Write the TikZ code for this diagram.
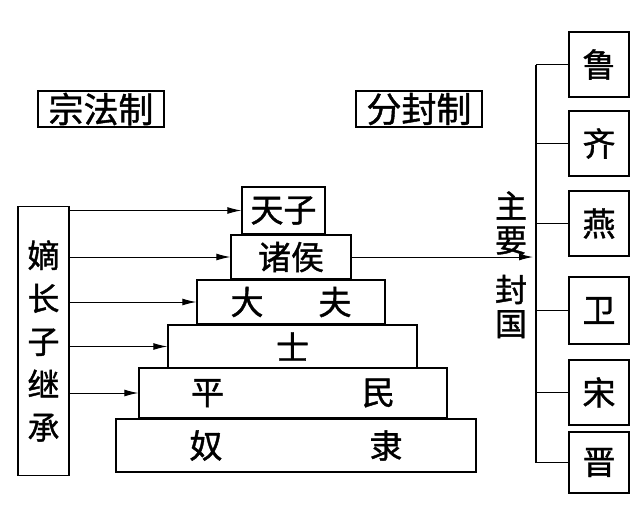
\documentclass[tikz,border=0pt]{standalone}
\usepackage{fontspec}
\setmainfont{Noto Sans CJK SC}[FakeBold=1.2]
\usetikzlibrary{arrows.meta}

\begin{document}
\begin{tikzpicture}[x=1pt,y=-1pt,
    box/.style={draw, line width=1.4pt, inner sep=0pt, align=center, font=\fontsize{33}{33}\selectfont},
    arr/.style={-{Latex[length=14pt,width=7pt]}, line width=1pt},
    link/.style={line width=1.2pt}]
    \useasboundingbox (0,0) rectangle (640,504);

    % titles
    \node[box, minimum width=126, minimum height=36, font=\fontsize{35}{35}\selectfont] (zongfa) at (101,109) {宗法制};
    \node[box, minimum width=126, minimum height=36, font=\fontsize{35}{35}\selectfont] (fenfeng) at (419,109) {分封制};

    % left column
    \node[box, minimum width=51, minimum height=269, font=\fontsize{32}{43}\selectfont] (dizhang) at (43.5,341) {嫡\\长\\子\\继\\承};

    % pyramid
    \node[box, minimum width=360, minimum height=53] (nuli) at (296,445.5) {奴\hspace{147pt}隶};
    \node[box, minimum width=308, minimum height=50] (pingmin) at (293,393) {平\hspace{138pt}民};
    \node[box, minimum width=249, minimum height=43] (shi) at (292.5,346.5) {士};
    \node[box, minimum width=188, minimum height=44] (dafu) at (291,302) {大\hspace{55pt}夫};
    \node[box, minimum width=120, minimum height=44] (zhuhou) at (291,257) {诸侯};
    \node[box, minimum width=83, minimum height=47] (tianzi) at (283.5,210.5) {天子};

    \draw[arr] (dizhang.east |- tianzi.west) -- (tianzi.west);
    \draw[arr] (dizhang.east |- zhuhou.west) -- (zhuhou.west);
    \draw[arr] (dizhang.east |- dafu.west) -- (dafu.west);
    \draw[arr] (dizhang.east |- shi.west) -- (shi.west);
    \draw[arr] (dizhang.east |- pingmin.west) -- (pingmin.west);

    % main fiefs
    \node[font=\fontsize{32}{34}\selectfont, align=center, inner sep=0pt] (zhuyao) at (511,223) {主\\要};
    \node[font=\fontsize{32}{34}\selectfont, align=center, inner sep=0pt] (fengguo) at (511,306.5) {封\\国};
    \coordinate (tip) at (533,257);
    \draw[arr] (zhuhou.east) -- (tip);

    \node[box, minimum width=60, minimum height=65] (lu) at (599,64.5) {鲁};
    \node[box, minimum width=60, minimum height=65] (qi) at (599,143.5) {齐};
    \node[box, minimum width=60, minimum height=65] (yan) at (599,223.5) {燕};
    \node[box, minimum width=60, minimum height=67] (wei) at (599,310.5) {卫};
    \node[box, minimum width=60, minimum height=65] (song) at (599,392.5) {宋};
    \node[box, minimum width=60, minimum height=61] (jin) at (599,462.5) {晋};

    \coordinate (spine) at (536,0);
    \draw[link] (spine |- lu.west) -- (spine |- jin.west);
    \draw[link] (spine |- lu.west) -- (lu.west);
    \draw[link] (spine |- qi.west) -- (qi.west);
    \draw[link] (spine |- yan.west) -- (yan.west);
    \draw[link] (spine |- wei.west) -- (wei.west);
    \draw[link] (spine |- song.west) -- (song.west);
    \draw[link] (spine |- jin.west) -- (jin.west);
\end{tikzpicture}
\end{document}
